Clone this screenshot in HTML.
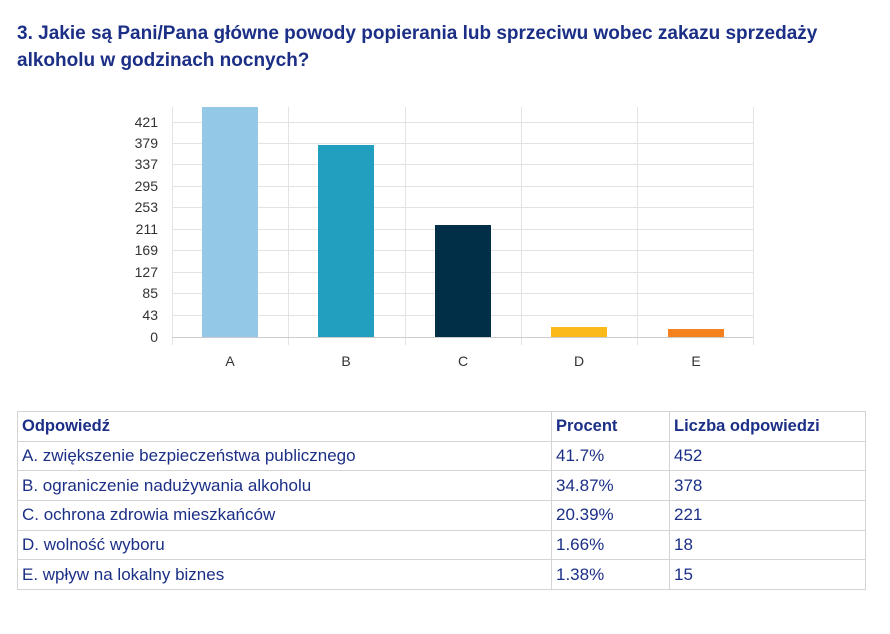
<!DOCTYPE html><html><head><style>
body{margin:0;background:#fff;width:890px;height:634px;position:relative;font-family:"Liberation Sans",sans-serif;overflow:hidden}
.t{position:absolute;left:17px;top:20px;width:860px;font-size:19px;font-weight:bold;color:#1b2f86;line-height:27px}
table{position:absolute;left:17px;top:411px;border-collapse:collapse;font-size:17px;color:#1b2f86}
td{border:1px solid #d4d4d4;height:28.7px;padding:0 0 0 4px;vertical-align:middle}
tr:first-child td{font-weight:bold;font-size:16.5px}
</style></head><body>
<div class="t">3. Jakie są Pani/Pana główne powody popierania lub sprzeciwu wobec zakazu sprzedaży alkoholu w godzinach nocnych?</div>
<svg width="890" height="400" style="position:absolute;left:0;top:0" font-family="Liberation Sans,sans-serif" font-size="14" fill="#333">
<g stroke="#e3e3e3" stroke-width="1">
<line x1="172" y1="122.5" x2="753" y2="122.5"/><line x1="172" y1="143.5" x2="753" y2="143.5"/><line x1="172" y1="164.5" x2="753" y2="164.5"/><line x1="172" y1="186.5" x2="753" y2="186.5"/><line x1="172" y1="207.5" x2="753" y2="207.5"/><line x1="172" y1="229.5" x2="753" y2="229.5"/><line x1="172" y1="250.5" x2="753" y2="250.5"/><line x1="172" y1="272.5" x2="753" y2="272.5"/><line x1="172" y1="293.5" x2="753" y2="293.5"/><line x1="172" y1="315.5" x2="753" y2="315.5"/>
<line x1="172.5" y1="107" x2="172.5" y2="345"/><line x1="288.5" y1="107" x2="288.5" y2="345"/><line x1="405.5" y1="107" x2="405.5" y2="345"/><line x1="521.5" y1="107" x2="521.5" y2="345"/><line x1="637.5" y1="107" x2="637.5" y2="345"/><line x1="753.5" y1="107" x2="753.5" y2="345"/>
</g>
<line x1="172" y1="337.5" x2="753" y2="337.5" stroke="#ccc"/>
<rect x="202" y="107" width="56" height="230" fill="#93c9e6"/>
<rect x="318" y="145" width="56" height="192" fill="#229fbf"/>
<rect x="435" y="225" width="56" height="112" fill="#002f47"/>
<rect x="551" y="327" width="56" height="10" fill="#fbba1a"/>
<rect x="668" y="329" width="56" height="8" fill="#f5821f"/>
<g text-anchor="end">
<text x="158" y="127">421</text><text x="158" y="148">379</text><text x="158" y="169">337</text><text x="158" y="191">295</text><text x="158" y="212">253</text><text x="158" y="234">211</text><text x="158" y="255">169</text><text x="158" y="277">127</text><text x="158" y="298">85</text><text x="158" y="320">43</text><text x="158" y="342">0</text>
</g>
<g text-anchor="middle">
<text x="230" y="366">A</text><text x="346" y="366">B</text><text x="463" y="366">C</text><text x="579" y="366">D</text><text x="696" y="366">E</text>
</g>
</svg>
<table>
<tr><td style="width:529px">Odpowiedź</td><td style="width:113px">Procent</td><td style="width:191px">Liczba odpowiedzi</td></tr>
<tr><td>A. zwiększenie bezpieczeństwa publicznego</td><td>41.7%</td><td>452</td></tr>
<tr><td>B. ograniczenie nadużywania alkoholu</td><td>34.87%</td><td>378</td></tr>
<tr><td>C. ochrona zdrowia mieszkańców</td><td>20.39%</td><td>221</td></tr>
<tr><td>D. wolność wyboru</td><td>1.66%</td><td>18</td></tr>
<tr><td>E. wpływ na lokalny biznes</td><td>1.38%</td><td>15</td></tr>
</table>
</body></html>
